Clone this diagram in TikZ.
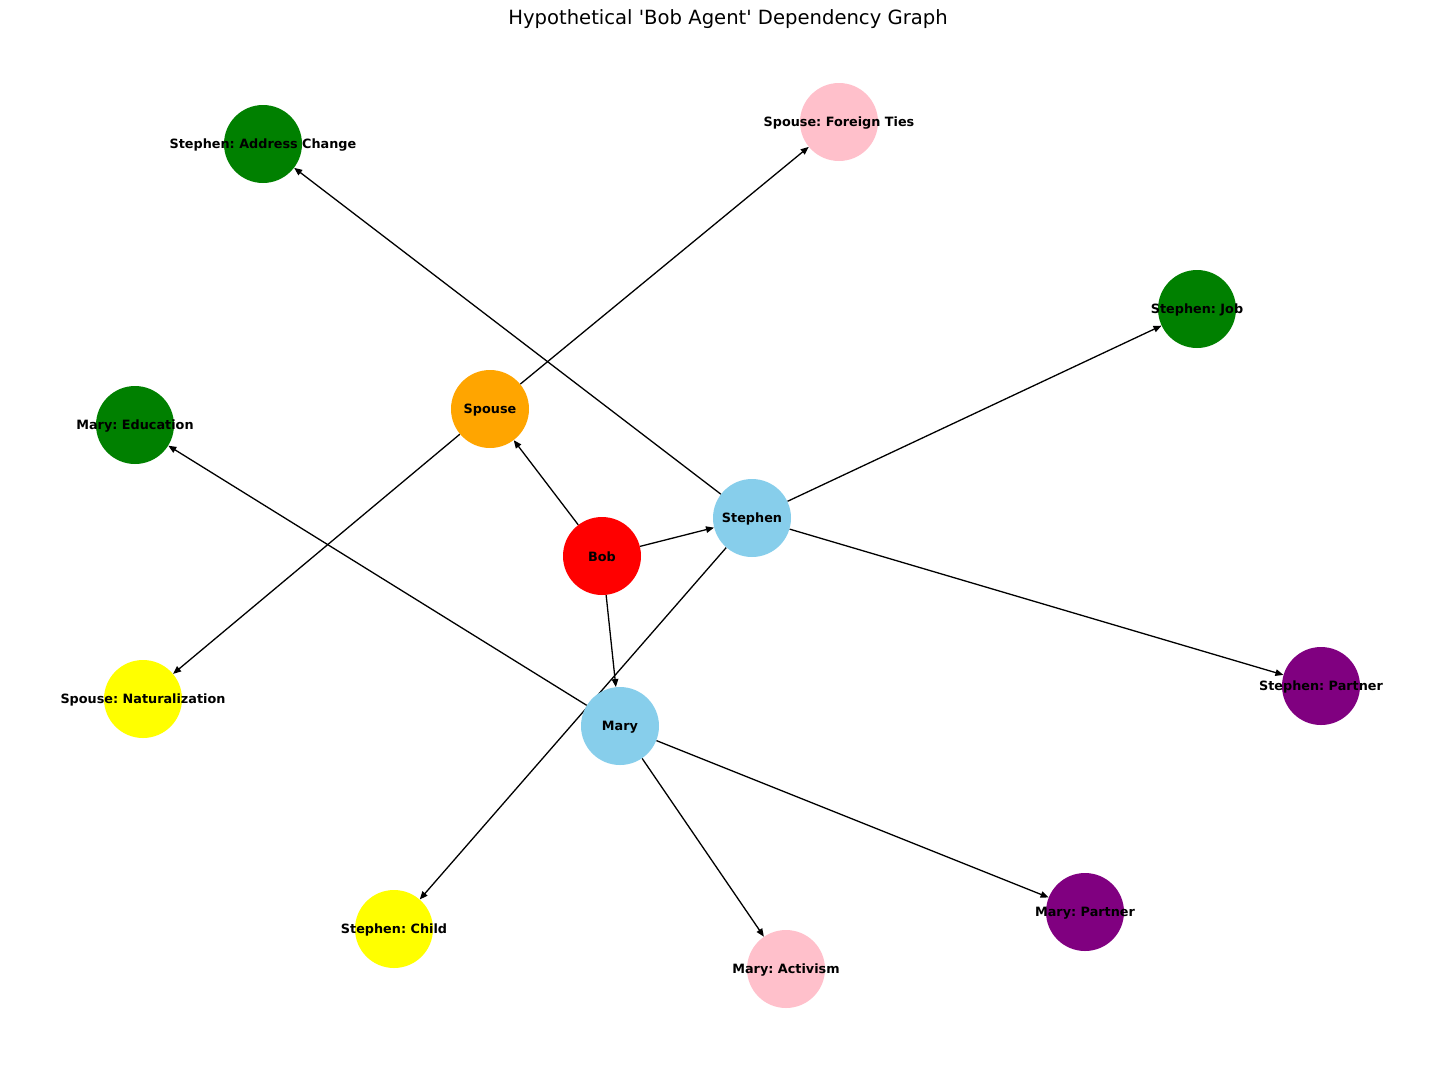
\documentclass[tikz,border=0pt]{standalone}
\usepackage{fontspec}
\setmainfont{DejaVu Sans}
\usepackage{tikz}
\usetikzlibrary{arrows.meta}

\definecolor{skyblue}{HTML}{87CEEB}
\definecolor{orangenode}{HTML}{FFA500}
\definecolor{greennode}{HTML}{008000}
\definecolor{pinknode}{HTML}{FFC0CB}
\definecolor{yellownode}{HTML}{FFFF00}
\definecolor{purplenode}{HTML}{800080}
\definecolor{rednode}{HTML}{FF0000}

\pgfdeclarelayer{edges}
\pgfsetlayers{edges,main}
\frenchspacing

\begin{document}
\begin{tikzpicture}[x=1pt,y=-1pt,
  agent/.style={circle,minimum size=78pt,inner sep=0pt,fill=#1},
  lbl/.style={font=\fontsize{12.8}{15}\selectfont\bfseries,inner sep=0pt,yshift=-1pt},
  dep/.style={line width=1.3pt,-{Triangle[length=8pt,width=6.5pt]}}]

\useasboundingbox (0,0) rectangle (1456,1069);

\node [font=\fontsize{19.6}{23}\selectfont] (title) at (728,19) {Hypothetical \textquotesingle Bob Agent\textquotesingle\ Dependency Graph};

% agents
\node [agent=rednode,label={[lbl]center:Bob}] (bob) at (602,556) {};
\node [agent=orangenode,label={[lbl]center:Spouse}] (spouse) at (490,409) {};
\node [agent=skyblue,label={[lbl]center:Stephen}] (stephen) at (752,518) {};
\node [agent=skyblue,label={[lbl]center:Mary}] (mary) at (620,726) {};

% attributes
\node [agent=greennode,label={[lbl]center:{Stephen: Address Change}}] (addr) at (263,144) {};
\node [agent=pinknode,label={[lbl]center:{Spouse: Foreign Ties}}] (ties) at (839,122) {};
\node [agent=greennode,label={[lbl]center:{Stephen: Job}}] (job) at (1197,309) {};
\node [agent=greennode,label={[lbl]center:{Mary: Education}}] (educ) at (135,425) {};
\node [agent=yellownode,label={[lbl]center:{Spouse: Naturalization}}] (natur) at (143,699) {};
\node [agent=purplenode,label={[lbl]center:{Stephen: Partner}}] (spart) at (1321,686) {};
\node [agent=yellownode,label={[lbl]center:{Stephen: Child}}] (child) at (394,929) {};
\node [agent=pinknode,label={[lbl]center:{Mary: Activism}}] (activ) at (786,969) {};
\node [agent=purplenode,label={[lbl]center:{Mary: Partner}}] (mpart) at (1085,912) {};

\begin{pgfonlayer}{edges}
\draw [dep] (bob) -- (spouse);
\draw [dep] (bob) -- (stephen);
\draw [dep] (bob) -- (mary);
\draw [dep] (spouse) -- (ties);
\draw [dep] (spouse) -- (natur);
\draw [dep] (stephen) -- (addr);
\draw [dep] (stephen) -- (job);
\draw [dep] (stephen) -- (spart);
\draw [dep] (stephen) -- (child);
\draw [dep] (mary) -- (educ);
\draw [dep] (mary) -- (activ);
\draw [dep] (mary) -- (mpart);
\end{pgfonlayer}
\end{tikzpicture}
\end{document}
